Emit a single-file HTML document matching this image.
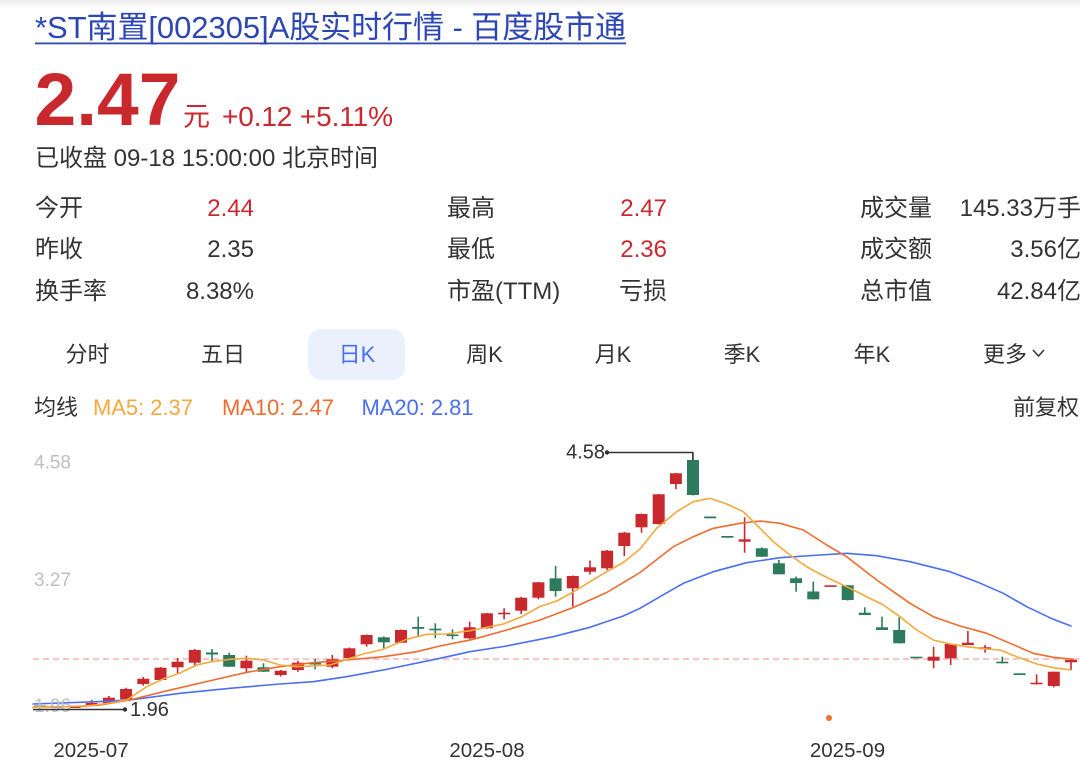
<!DOCTYPE html>
<html><head><meta charset="utf-8">
<style>
html,body{margin:0;padding:0;background:#fff;}
svg{display:block;font-family:"Liberation Sans","Noto Sans CJK SC",sans-serif;}
.r{fill:#c9282d}.g{fill:#2e7a5c}
.t{fill:#333}
</style></head>
<body>
<svg width="1080" height="774" viewBox="0 0 1080 774" xmlns="http://www.w3.org/2000/svg">
<defs><linearGradient id="tg" x1="0" y1="0" x2="0" y2="1"><stop offset="0" stop-color="#ececec"/><stop offset="1" stop-color="#ffffff"/></linearGradient></defs>
<rect x="0" y="0" width="1080" height="774" fill="#fff"/>
<rect x="0" y="0" width="1080" height="8" fill="url(#tg)"/>

<!-- Title -->
<text x="35" y="38" font-size="31" fill="#2d46b5" textLength="591">*ST南置[002305]A股实时行情 - 百度股市通</text>
<rect x="35" y="42.5" width="591" height="1.8" fill="#2d46b5"/>

<!-- Price -->
<text x="34.5" y="125" font-size="74" font-weight="bold" fill="#c9282d" textLength="146" lengthAdjust="spacingAndGlyphs">2.47</text>
<text x="183" y="126" font-size="27" fill="#c9282d">元</text>
<text x="222" y="126" font-size="28" fill="#c9282d" textLength="171">+0.12 +5.11%</text>
<text x="35" y="166" font-size="24" class="t" textLength="343">已收盘 09-18 15:00:00 北京时间</text>

<!-- Data grid -->
<g font-size="24">
<text x="35" y="216" class="t">今开</text>
<text x="254" y="216" text-anchor="end" fill="#c9282d">2.44</text>
<text x="35" y="257" class="t">昨收</text>
<text x="254" y="257" text-anchor="end" class="t">2.35</text>
<text x="35" y="299" class="t">换手率</text>
<text x="254" y="299" text-anchor="end" class="t">8.38%</text>

<text x="447" y="216" class="t">最高</text>
<text x="667" y="216" text-anchor="end" fill="#c9282d">2.47</text>
<text x="447" y="257" class="t">最低</text>
<text x="667" y="257" text-anchor="end" fill="#c9282d">2.36</text>
<text x="447" y="299" class="t">市盈(TTM)</text>
<text x="667" y="299" text-anchor="end" class="t">亏损</text>

<text x="860" y="216" class="t">成交量</text>
<text x="1081" y="216" text-anchor="end" class="t">145.33万手</text>
<text x="860" y="257" class="t">成交额</text>
<text x="1081" y="257" text-anchor="end" class="t">3.56亿</text>
<text x="860" y="299" class="t">总市值</text>
<text x="1081" y="299" text-anchor="end" class="t">42.84亿</text>
</g>

<!-- Tabs -->
<rect x="308" y="329" width="97" height="51" rx="13" ry="13" fill="#eaf1fd"/>
<g font-size="22" text-anchor="middle">
<text x="87.5" y="362" class="t">分时</text>
<text x="223" y="362" class="t">五日</text>
<text x="357" y="362" fill="#4e6ef2">日K</text>
<text x="484.5" y="362" class="t">周K</text>
<text x="613" y="362" class="t">月K</text>
<text x="742" y="362" class="t">季K</text>
<text x="872" y="362" class="t">年K</text>
</g>
<text x="983" y="362" font-size="22" class="t">更多</text>
<polyline points="1033,350 1038.5,356 1044,350" fill="none" stroke="#333" stroke-width="1.5"/>

<!-- MA legend -->
<g font-size="22">
<text x="34" y="415" class="t">均线</text>
<text x="93" y="415" fill="#f5a83c" textLength="100">MA5: 2.37</text>
<text x="222" y="415" fill="#ef6b2f" textLength="112">MA10: 2.47</text>
<text x="361.5" y="415" fill="#4b6ef4" textLength="112">MA20: 2.81</text>
<text x="1079" y="415" text-anchor="end" class="t">前复权</text>
</g>

<!-- Chart -->
<line x1="33" y1="659" x2="1080" y2="659" stroke="#f3b3b3" stroke-width="1.5" stroke-dasharray="6 4"/>

<g>
<rect class="g" x="34.2" y="705.5" width="12" height="1.6"/>
<rect class="r" x="51.4" y="706" width="12" height="2"/>
<rect class="r" x="68.6" y="705.5" width="12" height="2.5"/>
<rect class="r" x="90.9" y="700" width="1.6" height="6"/><rect class="r" x="85.7" y="703" width="12" height="2"/>
<rect class="r" x="108.1" y="696" width="1.6" height="8"/><rect class="r" x="102.9" y="697.7" width="12" height="5.6"/>
<rect class="r" x="125.3" y="687.7" width="1.6" height="12.3"/><rect class="r" x="120.1" y="689" width="12" height="10.3"/>
<rect class="r" x="142.5" y="677" width="1.6" height="8.7"/><rect class="r" x="137.3" y="678.7" width="12" height="5.3"/>
<rect class="r" x="159.7" y="667" width="1.6" height="14"/><rect class="r" x="154.5" y="667.7" width="12" height="12.3"/>
<rect class="r" x="176.8" y="658" width="1.6" height="15"/><rect class="r" x="171.6" y="661.7" width="12" height="5.6"/>
<rect class="r" x="194" y="649" width="1.6" height="17"/><rect class="r" x="188.8" y="650" width="12" height="12.7"/>
<rect class="g" x="211.2" y="649" width="1.6" height="12.7"/><rect class="g" x="206" y="652.5" width="12" height="2"/>
<rect class="g" x="228.4" y="652.7" width="1.6" height="14.3"/><rect class="g" x="223.2" y="655" width="12" height="11.7"/>
<rect class="r" x="245.6" y="655.7" width="1.6" height="17.6"/><rect class="r" x="240.4" y="660.7" width="12" height="7.6"/>
<rect class="g" x="262.7" y="663.3" width="1.6" height="8.7"/><rect class="g" x="257.5" y="667.3" width="12" height="4.4"/>
<rect class="r" x="279.9" y="670" width="1.6" height="6.5"/><rect class="r" x="274.7" y="670.7" width="12" height="4.3"/>
<rect class="r" x="297.1" y="660.7" width="1.6" height="11"/><rect class="r" x="291.9" y="662.7" width="12" height="7.3"/>
<rect class="g" x="314.3" y="659" width="1.6" height="10.3"/><rect class="g" x="309.1" y="662.7" width="12" height="1.8"/>
<rect class="r" x="331.5" y="655" width="1.6" height="13.3"/><rect class="r" x="326.3" y="659.3" width="12" height="7.4"/>
<rect class="r" x="348.6" y="647.5" width="1.6" height="11"/><rect class="r" x="343.4" y="648.3" width="12" height="9.7"/>
<rect class="r" x="365.8" y="634.5" width="1.6" height="12.2"/><rect class="r" x="360.6" y="635" width="12" height="9.3"/>
<rect class="g" x="383" y="636.5" width="1.6" height="11.8"/><rect class="g" x="377.8" y="637.3" width="12" height="5"/>
<rect class="r" x="400.2" y="629.5" width="1.6" height="13.5"/><rect class="r" x="395" y="630" width="12" height="12.7"/>
<rect class="g" x="417.4" y="616.7" width="1.6" height="20"/><rect class="g" x="412.2" y="627" width="12" height="1.8"/>
<rect class="g" x="434.5" y="623.3" width="1.6" height="15"/><rect class="g" x="429.3" y="628.7" width="12" height="1.6"/>
<rect class="g" x="451.7" y="629.3" width="1.6" height="10"/><rect class="g" x="446.5" y="634.5" width="12" height="1.6"/>
<rect class="r" x="468.9" y="621.7" width="1.6" height="17.3"/><rect class="r" x="463.7" y="627.3" width="12" height="11"/>
<rect class="r" x="486.1" y="613" width="1.6" height="15.7"/><rect class="r" x="480.9" y="613.3" width="12" height="15"/>
<rect class="r" x="503.3" y="608.3" width="1.6" height="11"/><rect class="r" x="498.1" y="612.7" width="12" height="1.6"/>
<rect class="r" x="520.4" y="597" width="1.6" height="17"/><rect class="r" x="515.2" y="597.7" width="12" height="13"/>
<rect class="r" x="537.6" y="582" width="1.6" height="17.3"/><rect class="r" x="532.4" y="582.3" width="12" height="15.4"/>
<rect class="g" x="554.8" y="566" width="1.6" height="30.7"/><rect class="g" x="549.6" y="578.3" width="12" height="12.7"/>
<rect class="r" x="572" y="575.5" width="1.6" height="31"/><rect class="r" x="566.8" y="576" width="12" height="12.3"/>
<rect class="r" x="589.2" y="560.5" width="1.6" height="14"/><rect class="r" x="584" y="567.3" width="12" height="4.4"/>
<rect class="r" x="606.3" y="550" width="1.6" height="20"/><rect class="r" x="601.1" y="550.7" width="12" height="17.6"/>
<rect class="r" x="623.5" y="532" width="1.6" height="24"/><rect class="r" x="618.3" y="532.7" width="12" height="13.3"/>
<rect class="r" x="640.7" y="513.5" width="1.6" height="19.2"/><rect class="r" x="635.5" y="514" width="12" height="13.3"/>
<rect class="r" x="657.9" y="494" width="1.6" height="30.5"/><rect class="r" x="652.7" y="494.3" width="12" height="29.7"/>
<rect class="r" x="675.1" y="473" width="1.6" height="16.3"/><rect class="r" x="669.9" y="473.3" width="12" height="10.7"/>
<rect class="g" x="692.2" y="452.3" width="1.6" height="43.2"/><rect class="g" x="687" y="460" width="12" height="35"/>
<rect class="g" x="704.2" y="516.5" width="12" height="1.8"/>
<rect class="g" x="721.4" y="536" width="12" height="1.7"/>
<rect class="r" x="743.8" y="517.3" width="1.6" height="35.4"/><rect class="r" x="738.6" y="539.3" width="12" height="2.4"/>
<rect class="g" x="761" y="547.3" width="1.6" height="9.7"/><rect class="g" x="755.8" y="548.3" width="12" height="8.4"/>
<rect class="g" x="778.1" y="560" width="1.6" height="14.5"/><rect class="g" x="772.9" y="563.3" width="12" height="11"/>
<rect class="g" x="795.3" y="576.5" width="1.6" height="15.2"/><rect class="g" x="790.1" y="578.3" width="12" height="4.7"/>
<rect class="g" x="812.5" y="581.5" width="1.6" height="18"/><rect class="g" x="807.3" y="591.5" width="12" height="7.8"/>
<rect class="r" x="824.5" y="585.3" width="12" height="1.6"/>
<rect class="g" x="846.9" y="585" width="1.6" height="15.5"/><rect class="g" x="841.7" y="585.3" width="12" height="14.7"/>
<rect class="g" x="864" y="607.3" width="1.6" height="7.7"/><rect class="g" x="858.8" y="612.7" width="12" height="2.3"/>
<rect class="g" x="881.2" y="616.7" width="1.6" height="13.3"/><rect class="g" x="876" y="627.3" width="12" height="2.7"/>
<rect class="g" x="898.4" y="617.3" width="1.6" height="26.2"/><rect class="g" x="893.2" y="630" width="12" height="13.3"/>
<rect class="g" x="910.4" y="656.7" width="12" height="1.6"/>
<rect class="r" x="932.8" y="646.7" width="1.6" height="21.6"/><rect class="r" x="927.6" y="656.7" width="12" height="4"/>
<rect class="r" x="949.9" y="643.5" width="1.6" height="21.5"/><rect class="r" x="944.7" y="644" width="12" height="14.3"/>
<rect class="r" x="967.1" y="631" width="1.6" height="14"/><rect class="r" x="961.9" y="642.7" width="12" height="2.3"/>
<rect class="r" x="984.3" y="645" width="1.6" height="7.7"/><rect class="r" x="979.1" y="647.3" width="12" height="2"/>
<rect class="g" x="1001.5" y="656.7" width="1.6" height="6.8"/><rect class="g" x="996.3" y="661.7" width="12" height="1.6"/>
<rect class="g" x="1013.5" y="673.3" width="12" height="1.7"/>
<rect class="r" x="1035.8" y="674.3" width="1.6" height="10.2"/><rect class="r" x="1030.6" y="682.7" width="12" height="1.6"/>
<rect class="r" x="1053" y="671.5" width="1.6" height="15.8"/><rect class="r" x="1047.8" y="671.7" width="12" height="14.3"/>
<rect class="r" x="1070.2" y="659.5" width="1.6" height="10.5"/><rect class="r" x="1065" y="660" width="12" height="2.3"/>
</g>

<!-- MA lines -->
<g fill="none" stroke-width="1.6" stroke-linejoin="round" stroke-linecap="round">
<polyline stroke="#4b6ef4" points="33,704 60,703 96.7,701.7 130,700 180,693.3 230,688.3 280,684 313.3,681.7 346.7,676.7 383.3,670 440,658.3 470,651.7 506.7,646 553.3,636.7 590,627.3 623.3,616 640,608.3 660,596.7 683.3,583.3 713.3,571.7 746.7,562.7 780,557.7 820,555 846.7,553.3 876.7,555.7 910,561.7 950,571.7 976.7,581.7 1003.3,593.3 1026.7,606.7 1053.3,619.3 1071,626"/>
<polyline stroke="#ef6b2f" points="33,707 80,706.5 100,705 130,700 163.3,691.7 213.3,680 246.7,672.3 280,666.7 313.3,662.7 346.7,660 383.3,656.7 416.7,651.7 440,646 473.3,639.3 506.7,630 540,620 573.3,607.5 606.7,592.5 640,572.5 673.3,546.7 693.3,536.7 713.3,528.3 740,523.3 760,521 780,523.3 803.3,530 826.7,545 846.7,556.7 876.7,580 910,603.3 933.3,616.7 960,626 986.7,633.3 1010,643.3 1033.3,653.3 1053.3,657.3 1073.3,659.3"/>
<polyline stroke="#f5a83c" points="33,707 60,707 90,705.5 110,703 126.7,700 146.7,686.7 163,679 180,673 196.7,665 211.7,661.7 230,659.3 246.7,658.3 263.3,660 280,665 296.7,666.7 313,666 330,665 346.7,659.5 363,654 383,649.3 406.7,639.3 426.7,634.3 446.7,634 470,630.7 503.3,624 521.7,616.7 540,606.5 556.7,601 573.3,592 590,581.7 606.7,571.7 623.3,562.5 640,549 656.7,528.3 676.7,511.7 693.3,501.7 710,498.3 726.7,504 743.3,511.7 756.7,525 773.3,541.7 790,555 806.7,566.7 813.3,570.5 830,579 846.7,586.7 863.3,595 883.3,605 900,616.7 916.7,630 933.3,640 950,644 966.7,646.7 986.7,649 1000,650 1016.7,656.7 1036.7,664 1053.3,667.7 1071,670"/>
</g>

<!-- Y axis labels -->
<g font-size="19" fill="#bfbfbf">
<text x="34" y="468.5">4.58</text>
<text x="34" y="586">3.27</text>
<text x="34" y="712">1.96</text>
</g>

<!-- Callouts -->
<polyline points="607,452.5 692.8,452.5 692.8,460" fill="none" stroke="#333" stroke-width="1.4"/>
<circle cx="607" cy="452.5" r="2.2" fill="#333"/>
<text x="605" y="458.5" font-size="20" text-anchor="end" class="t">4.58</text>

<line x1="33" y1="709.5" x2="125" y2="709.5" stroke="#333" stroke-width="1.4"/>
<circle cx="125" cy="709.5" r="2.2" fill="#333"/>
<text x="130" y="716" font-size="20" class="t">1.96</text>

<circle cx="829" cy="718" r="3" fill="#f07030"/>

<!-- X axis labels -->
<g font-size="20.5" class="t" text-anchor="middle">
<text x="91" y="757">2025-07</text>
<text x="487" y="757">2025-08</text>
<text x="847.5" y="757">2025-09</text>
</g>
</svg>
</body></html>
